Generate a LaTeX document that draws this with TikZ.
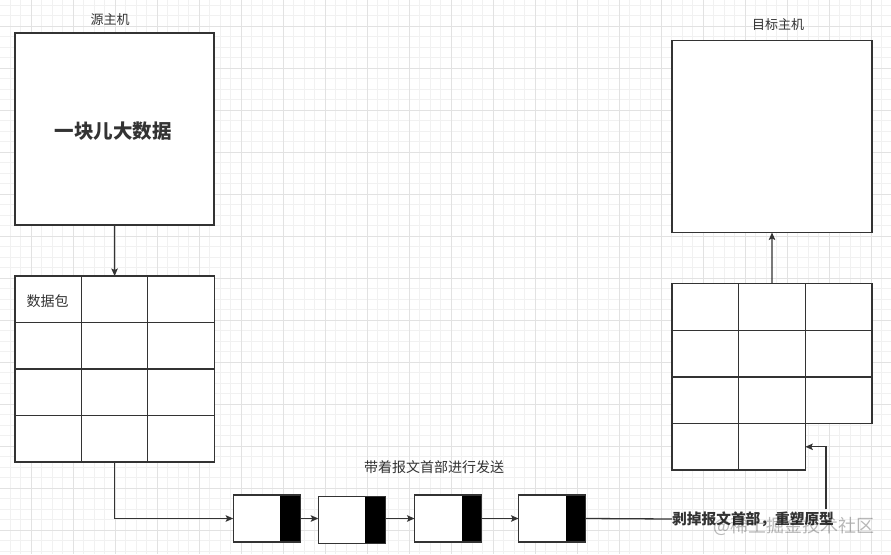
\documentclass[tikz,border=0pt]{standalone}
\usepackage{fontspec}
\newfontfamily\cjk{Noto Sans CJK SC}
\usetikzlibrary{arrows.meta}
\definecolor{linec}{HTML}{333333}
\definecolor{gminorc}{HTML}{F1F1F1}
\definecolor{gmajorc}{HTML}{E2E2E2}
\tikzset{
  gminor/.style={draw=gminorc, line width=0.8pt},
  gmajor/.style={draw=gmajorc, line width=0.9pt},
  box/.style={draw=linec, line width=1.3pt, fill=white, inner sep=0pt, outer sep=0pt, anchor=north west},
  cell/.style={draw=linec, line width=1.3pt, inner sep=0pt, outer sep=0pt, anchor=north west, minimum width=66.5pt, minimum height=46.5pt},
  backing/.style={fill=white, inner sep=0pt, outer sep=0pt, anchor=north west},
  pkt/.style={draw=linec, line width=1.3pt, fill=white, inner sep=0pt, outer sep=0pt,
    minimum width=67pt, minimum height=47pt,
    path picture={\fill[black] ([xshift=-20pt]path picture bounding box.north east) rectangle (path picture bounding box.south east);}},
  conn/.style={draw=linec, line width=1.3pt},
  arr/.style={conn, -{Stealth[length=7.5pt,width=6.5pt,inset=1.5pt]}},
  lbl/.style={font=\cjk\fontsize{13}{15}\selectfont, text=linec, inner sep=0pt},
  midlbl/.style={font=\cjk\fontsize{14}{16}\selectfont, text=linec, inner sep=0pt},
}
\begin{document}
\begin{tikzpicture}[x=1pt,y=-1pt]
\useasboundingbox (0,0) rectangle (891,554);
\fill[white] (0,0) rectangle (891,554);
% background grid
\begin{scope}
\clip (0,0) rectangle (891,554);
\foreach \k in {-3,...,82} { \draw[gminor] ({31+10.5*\k},0) -- ({31+10.5*\k},554); }
\foreach \k in {-3,...,52} { \draw[gminor] (0,{26+10.5*\k}) -- (891,{26+10.5*\k}); }
\foreach \k in {-1,...,21} { \draw[gmajor] ({31+42*\k},0) -- ({31+42*\k},554); }
\foreach \k in {-1,...,13} { \draw[gmajor] (0,{26+42*\k}) -- (891,{26+42*\k}); }
\end{scope}

% source host
\node[lbl] (srclbl) at (110,20) {源主机};
\node[box, minimum width=199pt, minimum height=192pt] (src) at (15,33) {};
\node[font=\cjk\bfseries\fontsize{19.5}{22}\selectfont, text=linec, inner sep=0pt] (bigdata) at (113,131) {一块儿大数据};

% source packet table
\node[backing, minimum width=199pt, minimum height=186pt] (sback) at (15,276) {};
\foreach \r in {1,...,4} {
  \foreach \c in {1,...,3} {
    \node[cell] (s\r\c) at ({15+66.33*(\c-1)},{276+46.5*(\r-1)}) {};
  }
}
\node[midlbl] (pktlbl) at (47.5,301) {数据包};

% destination host
\node[lbl] (dstlbl) at (778,25) {目标主机};
\node[box, minimum width=200pt, minimum height=192pt] (dst) at (672,40.5) {};

% destination table
\node[backing, minimum width=200pt, minimum height=139.8pt] (tback) at (672,283.7) {};
\node[backing, minimum width=133.3pt, minimum height=46.6pt] (tback2) at (672,423.5) {};
\foreach \r in {1,...,3} {
  \foreach \c in {1,...,3} {
    \node[cell, minimum width=66.67pt, minimum height=46.6pt] (t\r\c) at ({672+66.67*(\c-1)},{283.7+46.6*(\r-1)}) {};
  }
}
\foreach \c in {1,2} {
  \node[cell, minimum width=66.67pt, minimum height=46.6pt] (t4\c) at ({672+66.67*(\c-1)},{283.7+46.6*3}) {};
}

% packets
\node[pkt] (p1) at (266.7,518.5) {};
\node[pkt] (p2) at (351.8,520) {};
\node[pkt] (p3) at (448,518.5) {};
\node[pkt] (p4) at (552,518.5) {};

\node[midlbl] (sendlbl) at (434,467) {带着报文首部进行发送};
\node[font=\cjk\bfseries\fontsize{14.7}{17}\selectfont, text=linec, inner sep=0pt, anchor=west] (strip) at (672,519) {剥掉报文首部，重塑原型};

% watermark
\node[font=\cjk\fontsize{18}{20}\selectfont, text=black, opacity=0.28, inner sep=0pt, anchor=west] (wm) at (713,526) {@稀土掘金技术社区};

% connectors
\draw[arr] (src.south) -- (s12.north);
\draw[arr] (s42.south) |- (p1.west);
\draw[arr] (p1.east) -- (p2.west |- p1.east);
\draw[arr] (p2.east |- p1.east) -- (p3.west);
\draw[arr] (p3.east) -- (p4.west);
\draw[conn] (p4.east) -- (strip.west);
\coordinate (up) at ([xshift=-8pt,yshift=2pt]strip.north east);
\draw[arr] (up) |- (t42.east);
\draw[arr] (t12.north) -- (dst.south);
\end{tikzpicture}
\end{document}
